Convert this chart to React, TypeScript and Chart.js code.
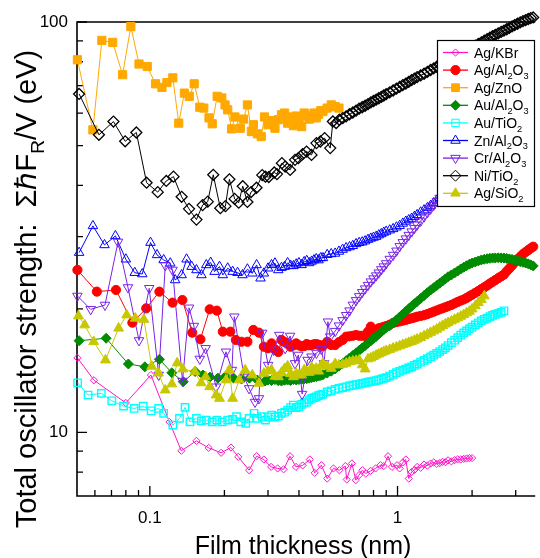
import { useEffect, useRef } from 'react';
import { Chart, registerables } from 'chart.js';
import { drawPoint } from 'chart.js/helpers';

Chart.register(...registerables);

const FONT = "'Liberation Sans', Arial, Helvetica, sans-serif";

type Pt = [number, number];

// Thickness steps (nm) shared by the densely sampled part of every run
const thicknessGrid: number[] = [
  0.30, 0.31, 0.32, 0.33, 0.34, 0.35, 0.36, 0.37, 0.38, 0.39, 0.40, 0.41, 0.42, 0.43, 0.44, 0.45, 0.46, 0.47, 0.48, 0.49, 0.50,
  0.52, 0.54, 0.56, 0.58, 0.60, 0.62, 0.64, 0.66, 0.68, 0.70, 0.72, 0.74, 0.76, 0.78, 0.80, 0.82, 0.84, 0.86, 0.88, 0.90,
  0.93, 0.96, 0.99, 1.02, 1.05, 1.08, 1.11, 1.14, 1.17, 1.20,
  1.24, 1.28, 1.32, 1.36, 1.40, 1.44, 1.48, 1.52, 1.56, 1.60,
  1.65, 1.70, 1.75, 1.80, 1.85, 1.90, 1.95, 2.00,
  2.06, 2.12, 2.18, 2.24, 2.30, 2.36, 2.42, 2.48,
  2.55, 2.62, 2.69, 2.76, 2.83, 2.90, 2.97,
  3.05, 3.13, 3.21, 3.29, 3.37, 3.45, 3.53,
];

// Ag/KBr
const agKbrHead: Pt[] = [
  [0.051, 15.2], [0.0595, 13.4], [0.08, 11.8], [0.101, 13.8], [0.12, 10.6], [0.134, 9.02], [0.1542, 9.54],
  [0.1728, 9.17], [0.194, 8.92], [0.2126, 9.19], [0.2275, 8.72], [0.2516, 8.09], [0.2698, 8.75], [0.2886, 8.59],
  [0.3087, 8.24], [0.328, 8.17], [0.3467, 8.13], [0.3684, 8.75], [0.389, 8.24], [0.4138, 8.31], [0.4423, 8.59],
  [0.463, 7.97], [0.4925, 8.32], [0.5203, 7.72], [0.5512, 8.17], [0.5824, 8.09], [0.6155, 8.28], [0.6235, 7.68],
  [0.6543, 8.4], [0.6787, 7.65], [0.6995, 7.87], [0.7216, 8.09], [0.7439, 7.94], [0.7786, 8.06], [0.8152, 8.17],
  [0.8535, 8.32], [0.8797, 8.28], [0.9158, 8.75], [0.95, 8.24], [0.9945, 8.32],
];
const agKbrTail = {
  from: 1.02,
  y: [8.17, 8.45, 8.59, 7.72, 8.01, 8.1, 8.24,
    8.2, 8.35, 8.3, 8.4, 8.45, 8.38, 8.42, 8.48, 8.46, 8.55,
    8.5, 8.56, 8.6, 8.59, 8.62, 8.64, 8.66, 8.66],
};

// Ag/Al2O3
const agAl2o3Head: Pt[] = [
  [0.051, 24.88], [0.0611, 22.03], [0.073, 22.24], [0.085, 18.51], [0.0967, 20.06], [0.1093, 22.03], [0.1235, 20.71],
  [0.1353, 21.02], [0.1483, 17.5], [0.16, 16.86], [0.1744, 19.95], [0.1865, 19.8], [0.197, 17.6], [0.2114, 17.6],
  [0.2225, 16.8], [0.2345, 16.63], [0.2477, 16.63], [0.2617, 17.77], [0.2757, 17.5], [0.2886, 16.17],
];
const agAl2o3Tail = {
  from: 0.30,
  y: [16.03, 16.48, 15.94, 15.7, 16.8, 16.6, 16.48, 16.17, 16.3, 16.48, 16.3, 16.2, 16.23, 16.42, 16.3, 16.33, 16.4, 16.42, 16.35, 16.3, 16.23,
    16.63, 16.33, 16.33, 16.6, 16.8, 17.11, 17.15, 17.2, 17.27, 17.2, 17.2, 17.18, 17.6, 18.1, 17.8, 17.77, 17.94, 18.0, 18.07, 18.17,
    18.3, 18.48, 18.57, 18.64, 18.72, 18.8, 18.89, 18.97, 19.05, 19.14,
    19.22, 19.3, 19.42, 19.56, 19.69, 19.82, 19.95, 20.06, 20.18, 20.3,
    20.45, 20.62, 20.79, 20.95, 21.08, 21.26, 21.46, 21.65,
    21.88, 22.1, 22.35, 22.57, 22.8, 23.05, 23.28, 23.5,
    23.76, 24.0, 24.25, 24.7, 25.1, 25.5, 25.95,
    26.4, 26.8, 27.2, 27.5, 27.8, 28.1, 28.35],
};

// Ag/ZnO
const agZnoHead: Pt[] = [
  [0.051, 80.9], [0.0589, 54.6], [0.064, 90.2], [0.0708, 89.2], [0.0776, 74.4], [0.0838, 97.5], [0.0904, 79.0],
  [0.0976, 77.9], [0.1054, 70.7], [0.1119, 69.3], [0.1172, 71.2], [0.1238, 73.1], [0.1308, 56.7], [0.1378, 67.1],
  [0.1443, 65.9], [0.151, 70.7], [0.1591, 62.0], [0.165, 61.7], [0.1733, 58.4], [0.1786, 56.5], [0.187, 65.9],
  [0.1952, 65.3], [0.2012, 62.8], [0.2062, 61.1], [0.2139, 54.9], [0.2205, 58.7], [0.2317, 55.1], [0.2388, 58.0],
  [0.2477, 62.8], [0.257, 54.1], [0.2617, 56.2], [0.2716, 53.4], [0.2817, 52.6], [0.2903, 58.7],
];
const agZnoTail = {
  from: 0.30,
  y: [56.2, 57.5, 55.1, 57.8, 59.4, 60.0, 56.7, 58.7, 55.9, 59.0, 57.0, 55.6, 60.0, 59.0, 58.0, 58.7, 60.0, 58.4, 59.6, 60.8, 60.5,
    61.7, 62.8, 62.2, 61.7],
};

// Au/Al2O3
const auAl2o3Head: Pt[] = [
  [0.0518, 16.73], [0.0666, 16.96], [0.0819, 14.68], [0.0955, 14.45], [0.1093, 15.07], [0.1227, 13.98], [0.1365, 13.29],
  [0.1524, 14.07], [0.164, 13.8], [0.1748, 13.64], [0.1882, 13.56], [0.2025, 13.72], [0.218, 13.56], [0.2345, 13.49],
  [0.2523, 13.56], [0.2715, 13.42], [0.2921, 13.34],
];
const auAl2o3Tail = {
  from: 0.30,
  y: [13.42, 13.38, 13.45, 13.36, 13.34, 13.4, 13.42, 13.38, 13.45, 13.42, 13.45, 13.48, 13.5, 13.52, 13.56, 13.6, 13.64, 13.68, 13.72, 13.77, 13.82,
    13.95, 14.1, 14.28, 14.5, 14.72, 14.95, 15.18, 15.4, 15.62, 15.84, 16.06, 16.28, 16.5, 16.72, 16.93, 17.14, 17.36, 17.58, 17.8, 18.02,
    18.2, 18.5, 18.8, 19.1, 19.42, 19.72, 20.02, 20.3, 20.58, 20.85,
    21.2, 21.55, 21.9, 22.23, 22.52, 22.8, 23.1, 23.38, 23.66, 23.95,
    24.2, 24.47, 24.74, 25.02, 25.26, 25.48, 25.7, 25.86,
    26.02, 26.18, 26.32, 26.42, 26.5, 26.56, 26.6, 26.62,
    26.63, 26.62, 26.6, 26.55, 26.47, 26.4, 26.3,
    26.17, 26.07, 25.97, 25.87, 25.75, 25.6, 25.45],
};

// Au/TiO2
const auTio2Head: Pt[] = [
  [0.0511, 13.21], [0.0563, 12.33], [0.0637, 12.45], [0.0702, 11.94], [0.0783, 11.59], [0.0864, 11.44], [0.094, 11.59],
  [0.1012, 11.29], [0.1086, 11.44], [0.1137, 11.13], [0.1238, 10.42], [0.1317, 10.82], [0.1387, 11.51], [0.1452, 10.61],
  [0.1542, 10.82], [0.1615, 10.67], [0.169, 10.72], [0.1786, 10.61], [0.1865, 10.72], [0.1957, 10.61], [0.2062, 10.72],
  [0.2159, 10.76], [0.2239, 10.92], [0.2329, 10.61], [0.2438, 10.52], [0.2516, 10.82], [0.2634, 11.13], [0.2715, 10.82],
  [0.2842, 10.92], [0.293, 10.72],
];
const auTio2Tail = {
  from: 0.30,
  y: [10.9, 11.02, 10.9, 10.96, 11.13, 11.2, 11.33, 11.5, 11.66, 11.5, 11.54, 11.7, 11.81, 11.85, 12.0, 12.1, 12.15, 12.2, 12.3, 12.35, 12.4,
    12.55, 12.62, 12.73, 12.8, 12.86, 12.92, 12.98, 13.03, 13.07, 13.12, 13.17, 13.2, 13.26, 13.3, 13.34, 13.38, 13.42, 13.48, 13.54, 13.6,
    13.72, 13.85, 13.98, 14.08, 14.18, 14.27, 14.36, 14.45, 14.56, 14.67,
    14.83, 14.98, 15.12, 15.27, 15.42, 15.58, 15.74, 15.92, 16.08, 16.28,
    16.55, 16.78, 17.02, 17.25, 17.48, 17.67, 17.87, 18.05,
    18.28, 18.5, 18.7, 18.86, 19.0, 19.15, 19.28, 19.38,
    19.5, 19.62, 19.78],
};

// Zn/Al2O3
const znAl2o3Head: Pt[] = [
  [0.0518, 27.42], [0.0589, 31.86], [0.0656, 28.63], [0.0726, 30.12], [0.08, 26.42], [0.0869, 24.5], [0.0932, 24.32],
  [0.1006, 29.01], [0.1069, 27.07], [0.1137, 26.32], [0.1209, 25.84], [0.1265, 23.52], [0.1344, 24.19], [0.1407, 26.42],
  [0.1474, 25.35], [0.1542, 24.88], [0.1615, 24.19], [0.169, 25.59], [0.176, 25.93], [0.1826, 24.65], [0.1911, 25.35],
  [0.197, 24.19], [0.2062, 25.12], [0.2159, 24.65], [0.226, 24.5], [0.2366, 24.19], [0.2477, 24.98], [0.2593, 24.42],
  [0.2698, 25.59], [0.2798, 23.75], [0.2886, 24.42],
];
const znAl2o3Tail = {
  from: 0.30,
  y: [25.12, 25.6, 25.84, 24.88, 25.2, 25.35, 25.88, 25.5, 25.45, 25.7, 25.88, 25.6, 26.03, 26.2, 25.88, 26.1, 26.3, 26.47, 26.3, 26.62, 26.62,
    27.1, 27.22, 27.3, 27.6, 27.9, 28.15, 28.3, 28.5, 28.8, 28.98, 29.08, 29.25, 29.5, 29.7, 29.85, 30.0, 30.25, 30.45, 30.7, 30.88,
    31.1, 31.33, 31.62, 31.9, 32.3, 32.66, 32.93, 33.2, 33.55, 33.9,
    34.4, 34.8, 35.25, 35.7, 36.25, 36.75, 37.25, 37.75, 38.25, 38.75,
    39.3, 39.9],
};

// Cr/Al2O3
const crAl2o3Head: Pt[] = [
  [0.051, 21.5], [0.0577, 19.95], [0.0659, 20.44], [0.0744, 29.12], [0.0816, 22.55], [0.0904, 16.75], [0.0994, 22.45],
  [0.1086, 13.8], [0.1154, 25.52], [0.1235, 24.88], [0.1355, 13.34], [0.144, 20.12], [0.1506, 18.16], [0.1591, 15.1],
  [0.168, 16.03], [0.1852, 12.92], [0.203, 15.72], [0.2145, 14.19], [0.2193, 19.14], [0.2403, 13.66], [0.2516, 12.8],
  [0.2658, 11.86], [0.2757, 12.1], [0.2842, 17.47], [0.3003, 14.59], [0.3163, 15.88], [0.333, 17.27], [0.3518, 16.03],
  [0.3684, 17.18], [0.3856, 14.73], [0.3978, 15.44], [0.4119, 12.4], [0.4333, 15.01], [0.4494, 15.29], [0.4705, 15.61],
  [0.4925, 15.96], [0.5048, 14.73], [0.5237, 18.61], [0.5348, 17.11],
];
const crAl2o3Tail = {
  from: 0.56,
  y: [17.65, 18.2, 18.75, 19.3, 19.8, 20.45, 20.98, 21.45, 21.95, 22.4, 22.85, 23.3, 23.7, 24.1, 24.5, 24.95, 25.35, 25.8,
    26.45, 27.05, 27.7, 28.4, 29.05, 29.65, 30.25, 30.85, 31.45, 32.05,
    32.75, 33.55, 34.35, 35.05, 35.8, 36.55, 37.25, 37.85, 38.45, 39.0,
    39.6, 40.3],
};

// Ni/TiO2
const niTio2Head: Pt[] = [
  [0.0518, 66.8], [0.0623, 53.1], [0.0713, 57.2], [0.0795, 51.2], [0.0882, 53.8], [0.097, 40.6], [0.1076, 38.5],
  [0.1165, 41.0], [0.1246, 42.0], [0.1344, 37.5], [0.1439, 35.05], [0.1542, 33.0], [0.1633, 35.8], [0.1713, 36.5],
  [0.1803, 42.43], [0.1925, 35.19], [0.2019, 35.59], [0.2095, 41.37], [0.2199, 37.07], [0.2285, 36.3], [0.2372, 39.81],
  [0.2477, 36.44], [0.2562, 38.52], [0.2695, 39.45], [0.2842, 42.36], [0.293, 42.0], [0.3021, 41.9], [0.318, 42.98],
  [0.326, 42.6], [0.3413, 45.3], [0.3518, 44.44], [0.3684, 43.62], [0.3856, 46.14], [0.3978, 46.58], [0.4138, 47.64],
  [0.4293, 48.34], [0.4494, 47.45], [0.4705, 50.69], [0.488, 51.15], [0.5076, 52.13], [0.5348, 49.29], [0.5483, 57.23],
  [0.5652, 56.72], [0.5824, 57.78], [0.6009, 58.34],
];
const niTio2Tail = {
  from: 0.62,
  y: [58.9, 59.6, 60.2, 60.8, 61.5, 62.0, 62.5, 63.1, 63.7, 64.2, 64.7, 65.2, 65.7, 66.2, 66.7,
    67.4, 68.1, 68.8, 69.5, 70.2, 70.8, 71.5, 72.2, 72.8, 73.4,
    74.1, 74.8, 75.6, 76.4, 77.1, 77.8, 78.6, 79.4, 80.0, 80.6,
    81.5, 82.3, 83.0, 83.8, 84.6, 85.5, 86.1, 86.8,
    87.6, 88.4, 89.2, 90.0, 90.8, 91.6, 92.3, 93.0,
    93.8, 94.6, 95.3, 96.0, 96.8, 97.6, 98.3,
    99.0, 99.8, 100.5, 101.1, 101.7, 102.2, 102.6],
};

// Ag/SiO2
const agSio2Head: Pt[] = [
  [0.0515, 19.21], [0.0546, 18.27], [0.0593, 16.63], [0.0662, 15.01], [0.0748, 17.94], [0.0806, 19.32], [0.0873, 18.97],
  [0.0946, 18.84], [0.1017, 14.49], [0.1083, 13.95], [0.1154, 12.68], [0.1227, 13.12], [0.1289, 14.76], [0.1359, 14.27],
  [0.1519, 14.05], [0.161, 13.2], [0.168, 13.66], [0.1744, 12.92], [0.1852, 12.33], [0.1911, 12.1], [0.203, 13.42],
  [0.2095, 14.19], [0.2159, 12.1], [0.2296, 13.42], [0.2425, 14.19], [0.2593, 13.8], [0.2757, 13.17], [0.2886, 13.93],
];
const agSio2Tail = {
  from: 0.30,
  y: [14.1, 14.19, 13.7, 13.66, 14.0, 14.3, 14.51, 13.9, 13.66, 13.9, 13.8, 13.8, 14.2, 14.05, 14.0, 14.4, 14.2, 14.32, 14.1, 14.5, 14.73,
    14.5, 14.32, 14.7, 14.59, 14.65, 14.73, 14.85, 14.92, 14.96, 15.01, 14.6, 14.27, 15.1, 15.18, 15.3, 15.42, 15.52, 15.62, 15.72, 15.82,
    15.92, 16.04, 16.14, 16.25, 16.36, 16.45, 16.56, 16.65, 16.76, 16.87,
    17.02, 17.19, 17.35, 17.52, 17.67, 17.83, 18.03, 18.2, 18.36, 18.51,
    18.68, 18.85, 19.0, 19.18, 19.35, 19.54, 19.72, 19.98,
    20.34, 20.7, 21.05, 21.5],
};

// Axis ranges and tick positions
const X_MIN = 0.0508;
const X_MAX = 3.53;
const Y_MIN = 7;
const Y_MAX = 100;
const xMajorTicks = [0.1, 1];
const xMinorTicks = [0.06, 0.07, 0.08, 0.09, 0.2, 0.3, 0.4, 0.5, 0.6, 0.7, 0.8, 0.9, 2, 3];
const yMajorTicks = [10, 100];
const yMinorTicks = [8, 9, 20, 30, 40, 50, 60, 70, 80, 90];

const X_TITLE = 'Film thickness (nm)';
const Y_TITLE = 'Total oscillator strength:  \u03A3\u210FF_R/V (eV)';

function joinRun(head: Pt[], tail: { from: number; y: number[] }): Pt[] {
  const start = thicknessGrid.indexOf(tail.from);
  const rest: Pt[] = [];
  tail.y.forEach((y, k) => {
    const x = thicknessGrid[start + k];
    if (x !== undefined) rest.push([x, y]);
  });
  return head.concat(rest);
}

interface Series {
  label: string;
  data: Pt[];
  color: string;
  style: string;
  radius: number;
  filled: boolean;
  rotation: number;
  edge: number;
}

// "_x" in a label renders x as a subscript
const series: Series[] = [
  { label: 'Ag/KBr', data: joinRun(agKbrHead, agKbrTail), color: '#FF14C8', style: 'rectRot', radius: 3.6, filled: false, rotation: 0, edge: 1 },
  { label: 'Ag/Al_2O_3', data: joinRun(agAl2o3Head, agAl2o3Tail), color: '#FF0000', style: 'circle', radius: 4.6, filled: true, rotation: 0, edge: 1 },
  { label: 'Ag/ZnO', data: joinRun(agZnoHead, agZnoTail), color: '#FFA800', style: 'rect', radius: 5.8, filled: true, rotation: 0, edge: 1 },
  { label: 'Au/Al_2O_3', data: joinRun(auAl2o3Head, auAl2o3Tail), color: '#008C00', style: 'rectRot', radius: 5, filled: true, rotation: 0, edge: 1 },
  { label: 'Au/TiO_2', data: joinRun(auTio2Head, auTio2Tail), color: '#00FFFF', style: 'rect', radius: 5.2, filled: false, rotation: 0, edge: 1.4 },
  { label: 'Zn/Al_2O_3', data: joinRun(znAl2o3Head, znAl2o3Tail), color: '#0000FF', style: 'triangle', radius: 5.5, filled: false, rotation: 0, edge: 1 },
  { label: 'Cr/Al_2O_3', data: joinRun(crAl2o3Head, crAl2o3Tail), color: '#7A22E6', style: 'triangle', radius: 5.5, filled: false, rotation: 180, edge: 1 },
  { label: 'Ni/TiO_2', data: joinRun(niTio2Head, niTio2Tail), color: '#000000', style: 'rectRot', radius: 5.5, filled: false, rotation: 0, edge: 1.3 },
  { label: 'Ag/SiO_2', data: joinRun(agSio2Head, agSio2Tail), color: '#C8C800', style: 'triangle', radius: 5.7, filled: true, rotation: 0, edge: 1 },
];

function richSegments(text: string) {
  const segs: { t: string; sub: boolean }[] = [];
  for (let i = 0; i < text.length; i++) {
    if (text[i] === '_' && i + 1 < text.length) {
      segs.push({ t: text[i + 1], sub: true });
      i++;
    } else {
      const last = segs[segs.length - 1];
      if (last && !last.sub) last.t += text[i];
      else segs.push({ t: text[i], sub: false });
    }
  }
  return segs;
}

function drawRich(ctx: CanvasRenderingContext2D, text: string, x: number, y: number, size: number, align: 'left' | 'center') {
  const segs = richSegments(text);
  const subSize = size * 0.66;
  const widths = segs.map((s) => {
    ctx.font = `${s.sub ? subSize : size}px ${FONT}`;
    return ctx.measureText(s.t).width;
  });
  const total = widths.reduce((a, b) => a + b, 0);
  let cx = align === 'center' ? x - total / 2 : x;
  ctx.textAlign = 'left';
  ctx.textBaseline = 'alphabetic';
  segs.forEach((s, i) => {
    ctx.font = `${s.sub ? subSize : size}px ${FONT}`;
    ctx.fillText(s.t, cx, s.sub ? y + size * 0.28 : y);
    cx += widths[i];
  });
}

const framePlugin = {
  id: 'frameAndTicks',
  beforeDatasetsDraw(chart: any) {
    const { ctx, chartArea: a } = chart;
    const xs = chart.scales.x;
    const ys = chart.scales.y;
    ctx.save();
    ctx.strokeStyle = '#000';
    ctx.lineWidth = 1.6;
    ctx.beginPath();
    ctx.moveTo(a.left, a.top);
    ctx.lineTo(a.right + 2, a.top);
    ctx.moveTo(a.left, a.top - 0.8);
    ctx.lineTo(a.left, a.bottom);
    ctx.lineTo(a.right + 2, a.bottom);
    ctx.stroke();
    ctx.lineWidth = 1.3;
    ctx.beginPath();
    const xt = (v: number, len: number) => {
      const p = xs.getPixelForValue(v);
      ctx.moveTo(p, a.bottom);
      ctx.lineTo(p, a.bottom - len);
    };
    const yt = (v: number, len: number) => {
      const p = ys.getPixelForValue(v);
      ctx.moveTo(a.left, p);
      ctx.lineTo(a.left + len, p);
    };
    xMajorTicks.forEach((v) => xt(v, 10));
    xMinorTicks.forEach((v) => xt(v, 6));
    yMajorTicks.forEach((v) => yt(v, 10));
    yMinorTicks.forEach((v) => yt(v, 6));
    ctx.stroke();
    ctx.restore();
  },
};

const legendPlugin = {
  id: 'boxLegend',
  afterDatasetsDraw(chart: any) {
    const ctx: CanvasRenderingContext2D = chart.ctx;
    const left = 437.5;
    const top = 40.5;
    const w = 97;
    const h = 166;
    ctx.save();
    ctx.fillStyle = '#fff';
    ctx.fillRect(left, top, w, h);
    ctx.strokeStyle = '#000';
    ctx.lineWidth = 1.2;
    ctx.strokeRect(left, top, w, h);
    series.forEach((s, i) => {
      const y = 52.5 + i * 17.6;
      ctx.strokeStyle = s.color;
      ctx.lineWidth = 1.3;
      ctx.beginPath();
      ctx.moveTo(443, y);
      ctx.lineTo(468, y);
      ctx.stroke();
      ctx.lineWidth = 1;
      ctx.fillStyle = s.filled ? s.color : 'rgba(0,0,0,0)';
      drawPoint(ctx, { pointStyle: s.style as any, radius: Math.min(s.radius, 5.5), rotation: s.rotation, borderWidth: 1 } as any, 455.5, y);
      ctx.fillStyle = '#000';
      drawRich(ctx, s.label, 474, y + 5, 14, 'left');
    });
    ctx.restore();
  },
};

const titlePlugin = {
  id: 'axisTitles',
  afterDraw(chart: any) {
    const ctx: CanvasRenderingContext2D = chart.ctx;
    ctx.save();
    ctx.fillStyle = '#000';
    drawRich(ctx, X_TITLE, 303, 554, 25, 'center');
    ctx.translate(36, 289);
    ctx.rotate(-Math.PI / 2);
    drawRich(ctx, Y_TITLE, 0, 0, 29, 'center');
    ctx.restore();
  },
};

export default function App() {
  const canvasRef = useRef<HTMLCanvasElement | null>(null);

  useEffect(() => {
    const canvas = canvasRef.current;
    if (!canvas) return;
    const tickFont = { family: FONT, size: 17 };
    const chart = new Chart(canvas, {
      type: 'line',
      data: {
        datasets: series.map((s, i) => ({
          label: s.label,
          data: s.data.map(([x, y]) => ({ x, y })),
          borderColor: s.color,
          backgroundColor: s.filled ? s.color : 'rgba(0,0,0,0)',
          borderWidth: 1,
          pointStyle: s.style as any,
          pointRadius: s.radius,
          pointHoverRadius: s.radius,
          pointRotation: s.rotation,
          pointBorderColor: s.color,
          pointBackgroundColor: s.filled ? s.color : 'rgba(0,0,0,0)',
          pointBorderWidth: s.edge,
          fill: false,
          tension: 0,
          clip: false as any,
          order: series.length - i,
        })),
      },
      options: {
        animation: false,
        responsive: false,
        maintainAspectRatio: false,
        devicePixelRatio: 1,
        events: [],
        layout: { padding: { top: 22, right: 0, bottom: 0, left: 0 } },
        plugins: { legend: { display: false }, tooltip: { enabled: false } },
        scales: {
          x: {
            type: 'logarithmic',
            min: X_MIN,
            max: X_MAX,
            grid: { display: false, drawTicks: false },
            border: { display: false },
            ticks: {
              font: tickFont,
              color: '#000',
              padding: 12,
              maxRotation: 0,
              autoSkip: false,
              callback: (v: any) => String(v),
            },
            afterBuildTicks: (s: any) => {
              s.ticks = xMajorTicks.map((v) => ({ value: v }));
            },
            afterFit: (s: any) => {
              s.height = 62;
            },
          },
          y: {
            type: 'logarithmic',
            min: Y_MIN,
            max: Y_MAX,
            grid: { display: false, drawTicks: false },
            border: { display: false },
            ticks: {
              font: tickFont,
              color: '#000',
              padding: 9,
              autoSkip: false,
              callback: (v: any) => String(v),
            },
            afterBuildTicks: (s: any) => {
              s.ticks = yMajorTicks.map((v) => ({ value: v }));
            },
            afterFit: (s: any) => {
              s.width = 77;
            },
          },
        },
      },
      plugins: [framePlugin, legendPlugin, titlePlugin],
    });
    return () => chart.destroy();
  }, []);

  return (
    <div style={{ position: 'absolute', left: 0, top: 0, width: 540, height: 558, background: '#fff' }}>
      <canvas ref={canvasRef} width={540} height={558} style={{ display: 'block' }} />
    </div>
  );
}
